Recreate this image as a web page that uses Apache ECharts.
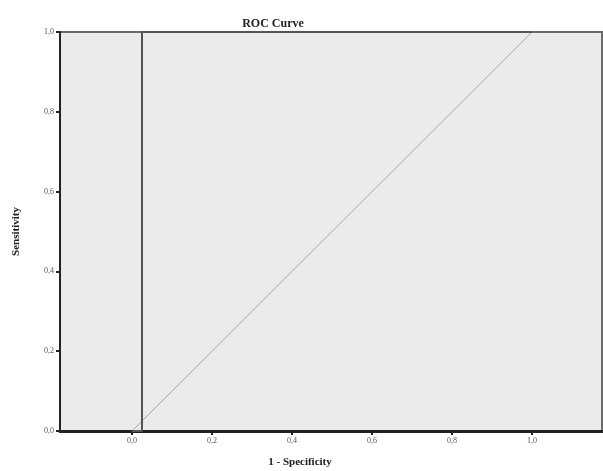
<!DOCTYPE html>
<html><head><meta charset="utf-8">
<script src="https://cdn.jsdelivr.net/npm/echarts@6/dist/echarts.min.js"></script>
<style>html,body{margin:0;padding:0;background:#fff}#c{width:603px;height:471px}</style>
</head><body><div id="c"></div>
<script>
const titleText = 'ROC Curve';
const xName = '1 - Specificity';
const yName = 'Sensitivity';
const tickValues = [0, 0.2, 0.4, 0.6, 0.8, 1.0];
const rocX = [0, 0.025, 0.025, 1.0];
const rocY = [0, 0, 1.0, 1.0];
const refX = [0, 1.0];
const refY = [0, 1.0];

const fmt = v => v.toFixed(1).replace('.', ',');
const chart = echarts.init(document.getElementById('c'));
const lbl = {fontFamily: 'Liberation Serif', fontSize: 8, color: '#555'};
chart.setOption({
  animation: false,
  backgroundColor: '#fff',
  title: {text: titleText, left: 268, top: 13, textAlign: 'center',
    textStyle: {fontFamily: 'Liberation Serif', fontWeight: 'bold', fontSize: 12, color: '#222'}},
  grid: {left: 60, top: 32, right: 1, bottom: 40, show: true, backgroundColor: '#ebebeb',
    borderColor: '#6a6a6a', borderWidth: 2, containLabel: false, outerBoundsMode: 'none'},
  xAxis: {type: 'value', min: -0.18, max: 1.175, name: xName, nameLocation: 'middle', nameGap: 26,
    nameTextStyle: {fontFamily: 'Liberation Serif', fontWeight: 'bold', fontSize: 11, color: '#222', padding: [0, 62, 0, 0]},
    axisLine: {show: true, lineStyle: {color: '#222', width: 3}},
    axisTick: {show: true, customValues: tickValues, length: 4, lineStyle: {color: '#222', width: 2}},
    axisLabel: Object.assign({customValues: tickValues, formatter: fmt, margin: 6}, lbl),
    splitLine: {show: false}},
  yAxis: {type: 'value', min: 0, max: 1, interval: 0.2, name: yName, nameLocation: 'middle', nameGap: 38,
    nameTextStyle: {fontFamily: 'Liberation Serif', fontWeight: 'bold', fontSize: 11, color: '#222'},
    axisLine: {show: true, onZero: false, lineStyle: {color: '#222', width: 2}},
    axisTick: {show: true, length: 4, lineStyle: {color: '#222', width: 2}},
    axisLabel: Object.assign({formatter: fmt, margin: 6}, lbl),
    splitLine: {show: false}},
  series: [
    {type: 'line', data: refX.map((x, i) => [x, refY[i]]), symbol: 'none',
      lineStyle: {color: '#a8a8a8', width: 1}},
    {type: 'line', data: rocX.map((x, i) => [x, rocY[i]]), symbol: 'none',
      lineStyle: {color: '#555', width: 2}}
  ]
});
</script></body></html>
